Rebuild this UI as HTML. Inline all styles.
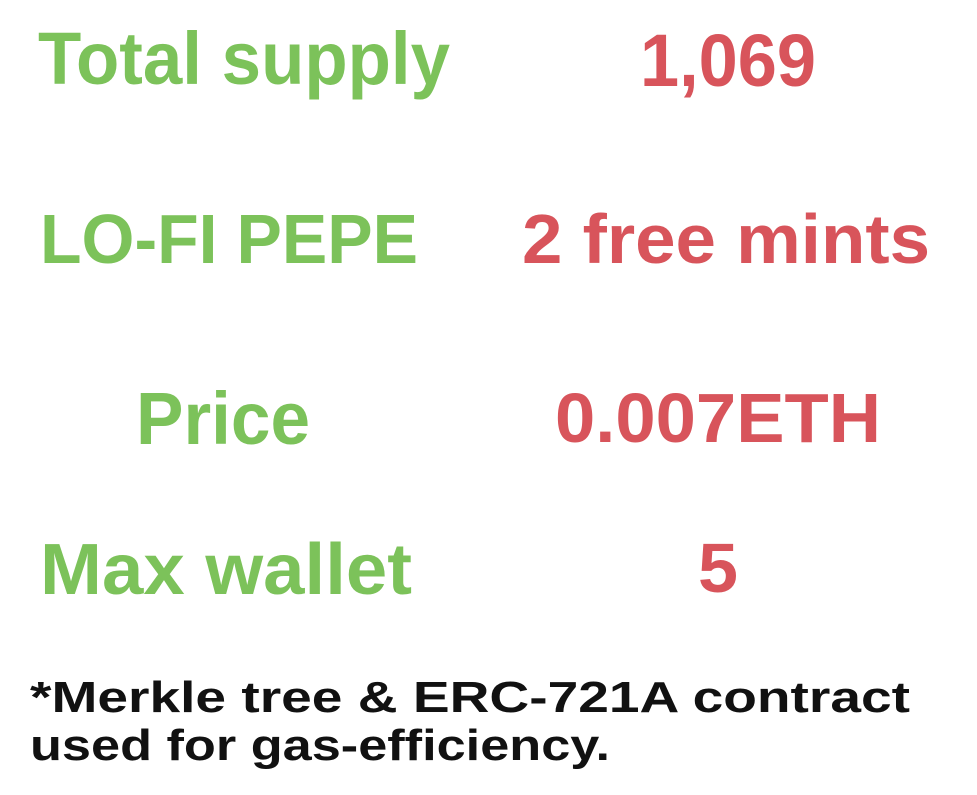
<!DOCTYPE html>
<html><head><meta charset="utf-8"><title>Mint info</title>
<style>
html,body{margin:0;padding:0;background:#fff;width:977px;height:795px;overflow:hidden}
svg{display:block}
text{font-family:"Liberation Sans",sans-serif;font-weight:bold}
.g{fill:#7cc25a}.r{fill:#d8545b}.k{fill:#111}
</style></head><body>
<svg width="977" height="795" viewBox="0 0 977 795">
<text class="g" x="38" y="84" font-size="74" textLength="412" lengthAdjust="spacingAndGlyphs">Total supply</text>
<text class="r" x="640" y="86" font-size="74" textLength="176" lengthAdjust="spacingAndGlyphs">1,069</text>
<text class="g" x="40" y="263" font-size="70" textLength="378" lengthAdjust="spacingAndGlyphs">LO-FI PEPE</text>
<text class="r" x="522" y="263" font-size="70" textLength="408" lengthAdjust="spacingAndGlyphs">2 free mints</text>
<text class="g" x="136" y="444" font-size="74" textLength="174" lengthAdjust="spacingAndGlyphs">Price</text>
<text class="r" x="555" y="442" font-size="70" textLength="326" lengthAdjust="spacingAndGlyphs">0.007ETH</text>
<text class="g" x="40" y="594" font-size="72" textLength="372" lengthAdjust="spacingAndGlyphs">Max wallet</text>
<text class="r" x="698" y="592" font-size="70" textLength="40" lengthAdjust="spacingAndGlyphs">5</text>
<text class="k" x="30" y="712" font-size="44" textLength="880" lengthAdjust="spacingAndGlyphs">*Merkle tree &amp; ERC-721A contract</text>
<text class="k" x="30" y="760" font-size="44" textLength="580" lengthAdjust="spacingAndGlyphs">used for gas-efficiency.</text>
</svg>
</body></html>
